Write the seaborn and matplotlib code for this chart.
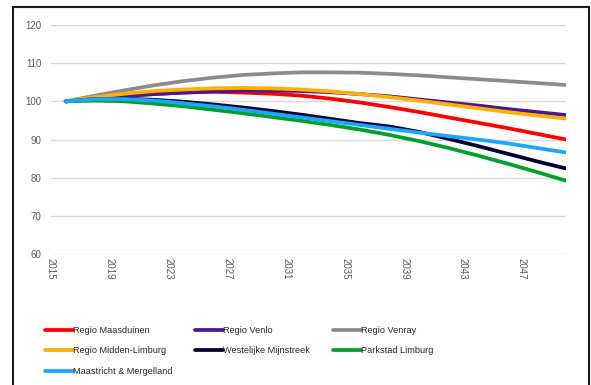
import numpy as np
import pandas as pd
import matplotlib
matplotlib.use("Agg")
import matplotlib.pyplot as plt
from matplotlib.patches import Rectangle
import seaborn as sns

# Population index per region (2016 = 100), every second year
years = [2016, 2018, 2020, 2022, 2024, 2026, 2028, 2030, 2032,
         2034, 2036, 2038, 2040, 2042, 2044, 2046, 2048, 2050]

maasduinen = [100.0, 100.7, 101.4, 101.9, 102.3, 102.5, 102.3, 102.0, 101.5,
              100.7, 99.7, 98.5, 97.2, 95.8, 94.4, 93.0, 91.5, 90.0]
venlo = [100.0, 100.7, 101.4, 101.9, 102.3, 102.6, 102.8, 102.8, 102.7,
         102.4, 101.9, 101.3, 100.5, 99.7, 98.9, 98.0, 97.2, 96.4]
venray = [100.0, 101.5, 102.9, 104.2, 105.3, 106.2, 106.9, 107.3, 107.6,
          107.6, 107.5, 107.2, 106.8, 106.3, 105.8, 105.3, 104.8, 104.3]
midden_limburg = [100.0, 101.1, 102.0, 102.7, 103.1, 103.4, 103.5, 103.4, 103.1,
                  102.6, 101.9, 101.1, 100.2, 99.2, 98.2, 97.2, 96.3, 95.5]
westelijke_mijnstreek = [100.0, 100.6, 100.7, 100.4, 99.9, 99.2, 98.4, 97.5, 96.5,
                         95.4, 94.3, 93.4, 92.0, 90.2, 88.3, 86.3, 84.3, 82.4]
parkstad = [100.0, 100.2, 100.0, 99.4, 98.7, 97.8, 96.9, 95.9, 94.9,
            93.8, 92.6, 91.2, 89.6, 87.8, 85.8, 83.7, 81.5, 79.2]
maastricht = [100.0, 100.6, 100.6, 100.2, 99.5, 98.7, 97.8, 96.8, 95.8,
              94.8, 93.8, 92.8, 91.8, 90.9, 90.0, 89.0, 87.8, 86.6]

regions = ["Regio Maasduinen", "Regio Venlo", "Regio Venray",
           "Regio Midden-Limburg", "Westelijke Mijnstreek", "Parkstad Limburg",
           "Maastricht & Mergelland"]
series = [maasduinen, venlo, venray, midden_limburg,
          westelijke_mijnstreek, parkstad, maastricht]
colors = ["#FF0000", "#4B1794", "#8C8C8C", "#FFB000",
          "#000033", "#00A02A", "#1AA7FF"]

x_ticks = [2015, 2019, 2023, 2027, 2031, 2035, 2039, 2043, 2047]
y_ticks = [60, 70, 80, 90, 100, 110, 120]

df = pd.DataFrame(
    [(y, v, r) for r, vals in zip(regions, series) for y, v in zip(years, vals)],
    columns=["jaar", "index", "regio"],
)

sns.set_style("white")
plt.rcParams["font.family"] = ["Liberation Sans", "DejaVu Sans"]

W, H = 591, 385
fig = plt.figure(figsize=(W / 100, H / 100), dpi=100)
ax = fig.add_axes([51 / W, (H - 254) / H, (566 - 51) / W, (254 - 25) / H])

sns.lineplot(data=df, x="jaar", y="index", hue="regio", hue_order=regions,
             palette=dict(zip(regions, colors)), linewidth=2.7, ax=ax,
             legend=True)

ax.set_xlim(2015, 2050)
ax.set_ylim(60, 120)
ax.set_xticks(x_ticks)
ax.set_yticks(y_ticks)
ax.set_xlabel("")
ax.set_ylabel("")
for s in ax.spines.values():
    s.set_visible(False)
ax.yaxis.grid(True, color="#D9D9D9", linewidth=1.0)
ax.xaxis.grid(False)
ax.tick_params(axis="x", length=0, pad=3, labelsize=7, labelcolor="#595959",
               labelrotation=-90)
ax.tick_params(axis="y", length=0, pad=7, labelsize=7, labelcolor="#595959")

# Legend laid out row by row in three columns
handles, labels = ax.get_legend_handles_labels()
lut = dict(zip(labels, handles))
order = [0, 3, 6, 1, 4, 2, 5]
ax.legend([lut[regions[i]] for i in order], [regions[i] for i in order],
          ncol=3, frameon=False, fontsize=6.6, handlelength=3.0,
          handletextpad=0.05, columnspacing=2.5, labelspacing=1.25,
          borderpad=0, borderaxespad=0,
          loc="upper left", bbox_to_anchor=(45 / W, (H - 326) / H),
          bbox_transform=fig.transFigure)

# Outer frame around the chart
fig.patches.append(Rectangle((13 / W, -0.05), (589 - 13) / W, (H - 7) / H + 0.05,
                             transform=fig.transFigure, fill=False,
                             edgecolor="#1a1a1a", linewidth=1.5))

fig.savefig("out.png", dpi=100)
